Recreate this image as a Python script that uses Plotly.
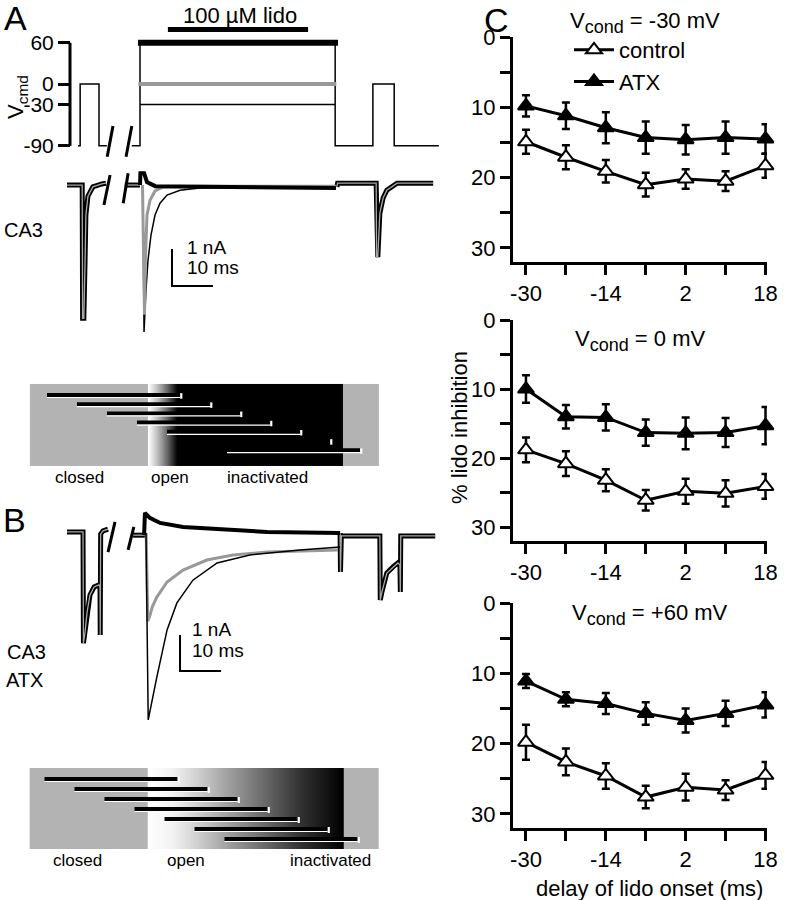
import plotly.graph_objects as go

FONT = "Liberation Sans, Arial, sans-serif"
W, H = 787, 900

# ---------------- Panel C data: % lido inhibition vs delay of lido onset ----------------
delays = [-30, -22, -14, -6, 2, 10, 18]
delay_ticktext = ["-30", "", "-14", "", "2", "", "18"]
inh_ticks = [0, 5, 10, 15, 20, 25, 30]
inh_ticktext = ["0", "", "10", "", "20", "", "30"]

ctrl_m30 = [14.9, 17.1, 19.1, 21.0, 20.2, 20.5, 18.3]
ctrl_m30_err = [1.7, 1.7, 1.6, 1.7, 1.4, 1.4, 1.7]
atx_m30 = [9.8, 11.2, 12.9, 14.3, 14.6, 14.3, 14.5]
atx_m30_err = [1.5, 1.9, 2.2, 2.3, 2.1, 2.3, 2.1]
ctrl_0 = [18.8, 20.8, 23.2, 26.1, 24.8, 25.1, 24.1]
ctrl_0_err = [1.8, 1.8, 1.6, 1.5, 1.8, 1.9, 1.8]
atx_0 = [10.0, 14.0, 14.1, 16.3, 16.4, 16.3, 15.3]
atx_0_err = [2.0, 1.7, 1.9, 1.9, 2.3, 2.1, 2.7]
ctrl_p60 = [19.8, 22.6, 24.6, 27.6, 26.2, 26.6, 24.5]
ctrl_p60_err = [2.5, 1.9, 1.8, 1.6, 1.9, 1.4, 1.9]
atx_p60 = [11.1, 13.7, 14.3, 15.7, 16.7, 15.7, 14.5]
atx_p60_err = [1.0, 1.0, 1.5, 1.6, 1.7, 1.8, 1.8]
SUB = '<sub><span style="font-size:18px">cond</span></sub>'
cond_titles = [f"V{SUB} = -30 mV", f"V{SUB} = 0 mV", f"V{SUB} = +60 mV"]

# ---------------- Panel A: voltage command protocol (ms, mV) ----------------
v_ticks = [60, 0, -30, -90]
v_ticktext = ["60", "0", "-30", "-90"]
prot_t = [-15.1, -14.6, -14.6, -10.0, -10.0, -8.1, None, -2.0, 0.0, 0.0, 47.6, 47.6, 56.8, 56.8, 62.0, 62.0, 72.9]
prot_v = [-90, -90, 0, 0, -90, -90, None, -90, -90, 60, 60, -90, -90, 0, 0, -90, -90]
cond_on, cond_off = 0.0, 47.6
cond_levels = [60, 0, -30]
lido_t = [6.8, 41.0]
lido_level = 79.3
v_break_t = [-8.0, -6.6, None, -3.4, -2.0]
v_break_v = [-106, -61, None, -106, -61]

# ---------------- Panel A: CA3 currents (ms, nA) ----------------
A_test1_t = [-17.8, -14.1, -14.0, -13.7, -13.4, -13.2, -12.7, -11.5, -9.3, -8.3]
A_test1_i = [0.0, 0.0, -3.6, -3.6, -2.03, -0.81, -0.30, -0.05, 0.03, 0.05]
A_pre_t = [-3.7, 0.0]
A_pre_i = [0.0, 0.0]
A_post_t = [48.0, 48.2, 57.6, 57.7, 58.0, 58.5, 59.3, 60.2, 62.7, 71.5]
A_post_i = [-0.05, 0.05, 0.05, -1.95, -1.95, -0.76, -0.35, -0.14, 0.05, 0.05]
A_m30_t = [0.7, 0.98, 1.46, 1.95, 2.68, 3.66, 4.88, 6.59, 9.76, 14.6, 47.8]
A_m30_i = [0.0, -3.97, -2.84, -2.03, -1.35, -0.81, -0.49, -0.27, -0.14, -0.08, -0.05]
A_0_t = [0.6, 1.1, 1.3, 1.71, 2.44, 3.66, 5.61, 14.6, 47.8]
A_0_i = [0.0, -3.5, -2.03, -0.81, -0.41, -0.16, -0.05, -0.03, -0.03]
A_60_t = [0.0, 0.1, 1.0, 1.7, 3.7, 47.8]
A_60_i = [0.0, 0.32, 0.32, 0.08, -0.03, -0.08]
A_break_t = [-8.8, -7.3, None, -4.1, -2.9]
A_break_i = [-0.54, 0.27, None, -0.49, 0.32]

# ---------------- Panel B: CA3 + ATX currents (ms, nA) ----------------
B_test1_t = [-17.8, -13.9, -13.8, -13.4, -12.9, -12.2, -11.2, -10.0, -9.76, -9.7, -9.6, -9.0, -7.8]
B_test1_i = [0.03, 0.03, -3.06, -2.75, -2.19, -1.72, -1.50, -1.44, -1.50, -2.83, -0.03, 0.06, 0.11]
B_pre_t = [-1.7, 1.5]
B_pre_i = [-0.06, -0.06]
B_m30_t = [1.46, 2.0, 4.1, 6.6, 9.0, 12.9, 18.8, 26.8, 39.0, 48.8]
B_m30_i = [0.0, -5.19, -4.0, -2.69, -1.94, -1.31, -0.83, -0.61, -0.47, -0.39]
B_0_t = [1.5, 1.9, 2.4, 3.0, 4.1, 6.6, 10.5, 16.3, 22.7, 31.0, 48.3]
B_0_i = [0.0, -2.45, -2.3, -2.05, -1.78, -1.36, -1.03, -0.75, -0.61, -0.53, -0.47]
B_60_t = [1.0, 1.2, 2.4, 4.9, 10.5, 18.8, 31.0, 48.8]
B_60_i = [-0.06, 0.56, 0.42, 0.28, 0.17, 0.11, 0.03, 0.0]
B_post_t = [48.8, 48.9, 49.1, 58.5, 58.6, 59.0, 60.2, 61.7, 62.9, 63.4, 63.5, 63.6, 72.0]
B_post_i = [0.0, -1.08, -0.08, -0.08, -1.86, -1.64, -1.11, -0.94, -0.83, -0.89, -1.64, -0.08, -0.08]
B_break_t = [-7.8, -6.1, None, -2.9, -1.5]
B_break_i = [-0.53, 0.31, None, -0.47, 0.17]

# scale bars: corner (ms, nA), 10 ms x 1 nA
scale_ms, scale_nA = 10, 1
scaleA_corner = (7.8, -2.73)
scaleB_corner = (9.76, -3.83)

# ---------------- Schematics (delay in ms, gating-state shading) ----------------
bar_rows = [1, 2, 3, 4, 5, 6, 7]
bar_len = 35.5
schemA_x = [-34.5, -34.4, -3.4, -3.2, -0.7, 2.0, 4.7, 48.8, 49.0, 58.4, 58.5]
schemA_d = [0.3, 0.3, 0.3, 0.0, 0.25, 0.6, 1.0, 1.0, 0.3, 0.3, 0.3]
schemA_underline = [True, True, True, True, True, False, True]
schemB_x = [-33.9, -33.8, -2.8, -2.6, 4.3, 11.5, 20.3, 29.3, 38.1, 46.9, 49.5, 49.7, 59.1, 59.2]
schemB_d = [0.3, 0.3, 0.3, 0.0, 0.05, 0.2, 0.4, 0.6, 0.8, 0.95, 1.0, 0.3, 0.3, 0.3]
schem_labels = ["closed", "open", "inactivated"]


def px_x(p):
    return p / W


def px_y(p):
    return 1 - p / H


fig = go.Figure()

# ======================= Panel C =======================
c_sets = [
    (ctrl_m30, ctrl_m30_err, atx_m30, atx_m30_err),
    (ctrl_0, ctrl_0_err, atx_0, atx_0_err),
    (ctrl_p60, ctrl_p60_err, atx_p60, atx_p60_err),
]
for k, (cv, ce, av, ae) in enumerate(c_sets):
    xa = "x" if k == 0 else f"x{k+1}"
    ya = "y" if k == 0 else f"y{k+1}"
    for name, vals, errs, fill in [("ATX", av, ae, "black"), ("control", cv, ce, "white")]:
        fig.add_trace(go.Scatter(
            x=delays, y=vals, xaxis=xa, yaxis=ya, mode="lines+markers", name=name,
            legendrank=1 if name == "control" else 2,
            showlegend=(k == 0), cliponaxis=False,
            line=dict(color="black", width=3),
            marker=dict(symbol="triangle-up", size=14, color=fill, line=dict(color="black", width=2)),
            error_y=dict(type="data", array=errs, visible=True, color="black", thickness=2.5, width=4),
        ))

# ======================= Panel A/B traces =======================


def line(x, y, ya, color="black", width=1.5, xa="x4"):
    fig.add_trace(go.Scatter(x=x, y=y, xaxis=xa, yaxis=ya, mode="lines", showlegend=False,
                             hoverinfo="skip", cliponaxis=False,
                             line=dict(color=color, width=width)))


def outlined(x, y, ya):
    line(x, y, ya, "black", 5)
    line(x, y, ya, "#a8a8a8", 1.3)


# voltage protocol
line(prot_t, prot_v, "y4", "black", 1.5)
line([cond_on, cond_off], [cond_levels[2]] * 2, "y4", "black", 1.5)
line([cond_on - 0.5, cond_off + 0.7], [cond_levels[0]] * 2, "y4", "black", 6)
line([cond_on - 0.4, cond_off + 0.3], [cond_levels[1]] * 2, "y4", "#999999", 4)
line(lido_t, [lido_level] * 2, "y4", "black", 5)
line(v_break_t, v_break_v, "y4", "black", 3)

# panel A currents
outlined(A_test1_t, A_test1_i, "y5")
outlined(A_pre_t, A_pre_i, "y5")
outlined(A_post_t, A_post_i, "y5")
line(A_m30_t, A_m30_i, "y5", "black", 1.5)
line(A_0_t, A_0_i, "y5", "#999999", 3)
line(A_60_t, A_60_i, "y5", "black", 4)
line(A_break_t, A_break_i, "y5", "black", 3)
cx, cy = scaleA_corner
line([cx, cx, cx + scale_ms], [cy + scale_nA, cy, cy], "y5", "black", 2)

# panel B currents
outlined(B_test1_t, B_test1_i, "y6")
outlined(B_pre_t, B_pre_i, "y6")
outlined(B_post_t, B_post_i, "y6")
line(B_0_t, B_0_i, "y6", "#999999", 3)
line(B_m30_t, B_m30_i, "y6", "black", 1.5)
line(B_60_t, B_60_i, "y6", "black", 4)
line(B_break_t, B_break_i, "y6", "black", 3)
bx, by = scaleB_corner
line([bx, bx, bx + scale_ms], [by + scale_nA, by, by], "y6", "black", 2)

# ======================= Schematics =======================
gray_scale = [[0, "#ffffff"], [1, "#000000"]]
for xa, ya, sx, sd, yedges, under_off, underline in [
    ("x5", "y7", schemA_x, schemA_d, [-0.2, 4.26, 8.72], 0.27, schemA_underline),
    ("x6", "y8", schemB_x, schemB_d, [-0.1, 3.95, 8.0], 0.25, [True] * 7),
]:
    fig.add_trace(go.Heatmap(x=sx, y=yedges, z=[sd, sd], xaxis=xa, yaxis=ya, colorscale=gray_scale,
                             zmin=0, zmax=1, zsmooth="best", showscale=False, hoverinfo="skip"))
    bx_, by_, ux, uy, ex, ey = [], [], [], [], [], []
    for d, r, u in zip(delays, bar_rows, underline):
        bx_ += [d, d + bar_len, None]
        by_ += [r, r, None]
        if u:
            ux += [d, d + bar_len, None]
            uy += [r + under_off, r + under_off, None]
        ex += [d + bar_len + 0.3, d + bar_len + 0.3, None]
        ey += [r - 0.2, r + 0.4, None]
    line(bx_, by_, ya, "black", 4, xa)
    line(ux, uy, ya, "white", 1.2, xa)
    line(ex, ey, ya, "white", 2.2, xa)

# ======================= Layout =======================
cx_dom = [px_x(513), px_x(767)]
c_ydoms = [[px_y(262), px_y(37)], [px_y(541), px_y(320)], [px_y(828), px_y(603)]]
axis_font = dict(family=FONT, size=22, color="black")
layout = dict(
    template="none",
    width=W, height=H, margin=dict(l=0, r=0, t=0, b=0, pad=0), autosize=False,
    paper_bgcolor="white", plot_bgcolor="white",
    font=dict(family=FONT, color="black"),
    legend=dict(x=px_x(569), y=px_y(29), xanchor="left", yanchor="top", bgcolor="rgba(0,0,0,0)",
                font=dict(family=FONT, size=22, color="black"), tracegroupgap=0,
                itemwidth=40, traceorder="normal", borderwidth=0),
)
for k in range(3):
    xn = "xaxis" if k == 0 else f"xaxis{k+1}"
    yn = "yaxis" if k == 0 else f"yaxis{k+1}"
    ya = "y" if k == 0 else f"y{k+1}"
    xa = "x" if k == 0 else f"x{k+1}"
    layout[xn] = dict(domain=cx_dom, anchor=ya, range=[-32.6, 18.3], tickvals=delays, ticktext=delay_ticktext,
                      showline=True, linewidth=3, linecolor="black", ticks="outside", ticklen=10, tickwidth=3,
                      tickcolor="black", showgrid=False, zeroline=False, tickfont=axis_font, automargin=False)
    layout[yn] = dict(domain=c_ydoms[k], anchor=xa, range=[32, 0], tickvals=inh_ticks, ticktext=inh_ticktext,
                      showline=True, linewidth=3, linecolor="black", ticks="outside", ticklen=10, tickwidth=3,
                      tickcolor="black", showgrid=False, zeroline=False, tickfont=axis_font, automargin=False)

ab_dom = [0, px_x(460)]
hidden = dict(visible=False, automargin=False, showgrid=False, zeroline=False)
layout["xaxis4"] = dict(domain=ab_dom, anchor="y5", range=[-34.15, 78.05], **hidden)
layout["yaxis4"] = dict(domain=[px_y(160), px_y(10)], anchor="free", position=px_x(70), range=[-110.6, 107.7],
                        tickvals=v_ticks, ticktext=v_ticktext, ticks="outside", ticklen=12, tickwidth=3,
                        tickcolor="black", showline=False, showgrid=False, zeroline=False, automargin=False,
                        tickfont=dict(family=FONT, size=21, color="black"))
layout["yaxis5"] = dict(domain=[px_y(345), px_y(160)], anchor="x4", range=[-4.32, 0.676], **hidden)
layout["yaxis6"] = dict(domain=[px_y(735), px_y(495)], anchor="x4", range=[-5.61, 1.056], **hidden)
layout["xaxis5"] = dict(domain=ab_dom, anchor="y7", range=[-42.53, 80.13], **hidden)
layout["yaxis7"] = dict(domain=[px_y(470), px_y(380)], anchor="x5", range=[9.15, -0.63], **hidden)
layout["xaxis6"] = dict(domain=ab_dom, anchor="y8", range=[-41.87, 80.8], **hidden)
layout["yaxis8"] = dict(domain=[px_y(860), px_y(760)], anchor="x6", range=[9.1, -0.9], **hidden)
fig.update_layout(**layout)

# voltage axis line (-90 .. 60 mV)
fig.add_shape(type="line", xref="paper", x0=px_x(70), x1=px_x(70), yref="y4", y0=-90, y1=60,
              line=dict(color="black", width=3))


def ann(text, x, y, size, angle=0, xanchor="center", xref="paper", yref="paper"):
    fig.add_annotation(text=text, x=x, y=y, xref=xref, yref=yref, showarrow=False, textangle=angle,
                       xanchor=xanchor, yanchor="middle", font=dict(family=FONT, size=size, color="black"))


ann("A", px_x(15), px_y(18), 34)
ann("B", px_x(14), px_y(520), 34)
ann("C", px_x(496), px_y(20), 34)
ann("100 µM lido", px_x(240), px_y(15), 22)
ann("V<sub>cmd</sub>", px_x(17), px_y(97), 22, angle=-90)
ann("CA3", px_x(23), px_y(230), 20)
ann("CA3", px_x(26), px_y(652), 20)
ann("ATX", px_x(24), px_y(680), 20)
ann("1 nA", 11.0, -1.70, 19, xanchor="left", xref="x4", yref="y5")
ann("10 ms", 11.0, -2.24, 19, xanchor="left", xref="x4", yref="y5")
ann("1 nA", 12.2, -2.69, 19, xanchor="left", xref="x4", yref="y6")
ann("10 ms", 12.2, -3.25, 19, xanchor="left", xref="x4", yref="y6")
for lab, xa_ in zip(schem_labels, [79, 170, 267]):
    ann(lab, px_x(xa_), px_y(477), 17)
for lab, xb_ in zip(schem_labels, [77, 186, 330]):
    ann(lab, px_x(xb_), px_y(860), 17)
for t, (tx, ty) in zip(cond_titles, [(645, 22), (640, 340), (650, 614)]):
    ann(t, px_x(tx), px_y(ty), 22)
ann("% lido inhibition", px_x(460), px_y(428), 22, angle=-90)
ann("delay of lido onset (ms)", px_x(649), px_y(888), 22)

fig.write_html("out.html", config={"displayModeBar": False},
               post_script="document.body.style.margin='0';document.body.style.padding='0';")
